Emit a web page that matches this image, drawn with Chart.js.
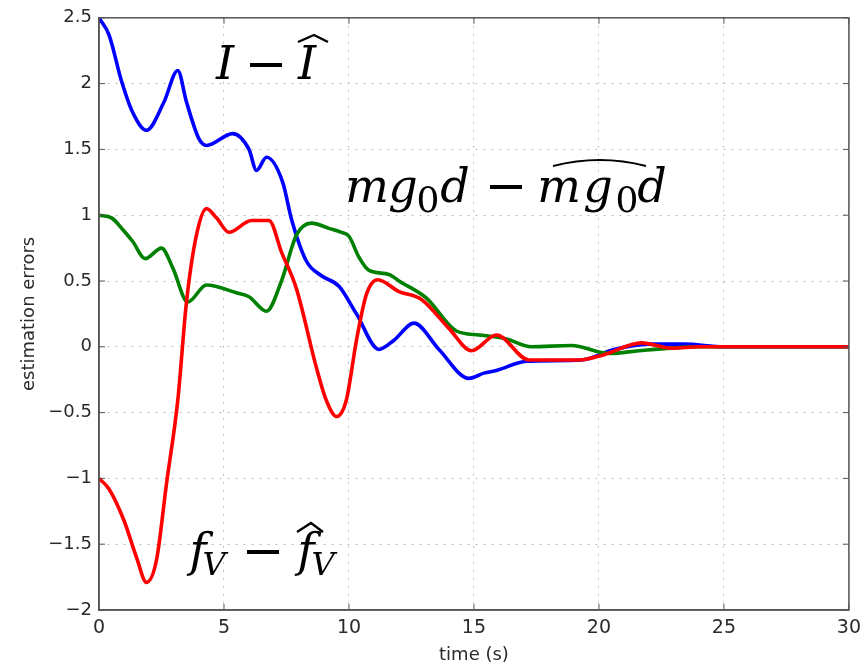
<!DOCTYPE html>
<html>
<head>
<meta charset="utf-8">
<script src="https://cdn.jsdelivr.net/npm/chart.js"></script>
<style>
  body { margin: 0; background: #fff; }
</style>
</head>
<body>
<canvas id="myChart" width="868" height="668"></canvas>
<script>
// time (s) and error values, one pair of arrays per curve
const inertiaTimes = [0, 0.4, 0.9, 1.35, 1.9, 2.6, 3.15, 3.5, 4.0, 4.3, 5.35, 6.0, 6.3, 6.7, 7.35, 7.7, 8.3, 8.9, 9.6, 10.3, 11.2, 11.8, 12.6, 13.6, 14.8, 15.4, 15.9, 17.1, 19.3, 20.6, 22.1, 23.4, 25, 30];
const inertiaErrors = [2.5, 2.37, 2.02, 1.78, 1.645, 1.86, 2.1, 1.86, 1.58, 1.53, 1.62, 1.5, 1.34, 1.44, 1.25, 0.97, 0.65, 0.54, 0.46, 0.25, -0.02, 0.05, 0.18, -0.02, -0.24, -0.2, -0.18, -0.11, -0.1, -0.02, 0.02, 0.02, 0, 0];

const gravityTimes = [0, 0.5, 1.0, 1.35, 1.85, 2.5, 2.95, 3.55, 4.3, 5.5, 6.0, 6.7, 7.3, 7.9, 8.5, 9.2, 9.7, 10.0, 10.4, 10.8, 11.6, 12.0, 13.1, 14.3, 15.2, 16.3, 17.3, 18.9, 20.4, 21.6, 22.9, 24, 30];
const gravityErrors = [1.0, 0.98, 0.88, 0.8, 0.67, 0.75, 0.6, 0.34, 0.47, 0.41, 0.38, 0.27, 0.5, 0.85, 0.94, 0.9, 0.87, 0.84, 0.68, 0.58, 0.55, 0.5, 0.37, 0.12, 0.09, 0.06, 0.0, 0.01, -0.05, -0.03, -0.01, 0, 0];

const frictionTimes = [0, 0.4, 1.0, 1.5, 1.9, 2.3, 2.7, 3.15, 3.5, 3.9, 4.3, 4.7, 5.2, 6.1, 6.8, 7.3, 7.9, 8.7, 9.1, 9.5, 9.9, 10.3, 10.7, 11.15, 12.0, 12.9, 14.0, 14.9, 15.9, 17.2, 19.2, 20.2, 21.7, 22.9, 24, 30];
const frictionErrors = [-1.0, -1.08, -1.32, -1.6, -1.79, -1.62, -1.04, -0.41, 0.34, 0.85, 1.05, 0.98, 0.87, 0.96, 0.96, 0.72, 0.44, -0.16, -0.41, -0.53, -0.4, 0.05, 0.4, 0.51, 0.42, 0.36, 0.14, -0.03, 0.09, -0.1, -0.1, -0.06, 0.03, -0.01, 0, 0];

const xTicks = [0, 5, 10, 15, 20, 25, 30];
const yTicks = [-2, -1.5, -1, -0.5, 0, 0.5, 1, 1.5, 2, 2.5];

function toPoints(times, values) {
    return times.map((t, i) => ({x: t, y: values[i]}));
}

// curve labels, drawn glyph by glyph (centre x, baseline y in pixels)
const serif = '"DejaVu Serif", "Liberation Serif", serif';
const mathLabels = [
    {glyphs: [
        {t: 'I', x: 225, y: 79, size: 46, italic: true},
        {t: 'I', x: 307, y: 79, size: 46, italic: true}
     ],
     minus: [250, 282, 65],
     hats: [{pts: [[298, 42], [314, 35], [328, 42]], wide: false}]},
    {glyphs: [
        {t: 'm', x: 367, y: 202, size: 46, italic: true},
        {t: 'g', x: 403, y: 202, size: 46, italic: true},
        {t: '0', x: 428, y: 212, size: 36, italic: false},
        {t: 'd', x: 455, y: 202, size: 46, italic: true},
        {t: 'm', x: 559, y: 202, size: 46, italic: true},
        {t: 'g', x: 598, y: 202, size: 46, italic: true},
        {t: '0', x: 627, y: 212, size: 36, italic: false},
        {t: 'd', x: 652, y: 202, size: 46, italic: true}
     ],
     minus: [490, 522, 187],
     hats: [{pts: [[553, 166], [600, 154], [646, 166]], wide: true}]},
    {glyphs: [
        {t: 'f', x: 198, y: 566, size: 46, italic: true},
        {t: 'V', x: 214, y: 575, size: 32, italic: true},
        {t: 'f', x: 306, y: 566, size: 46, italic: true},
        {t: 'V', x: 323, y: 575, size: 32, italic: true}
     ],
     minus: [247, 279, 552],
     hats: [{pts: [[297, 532], [311, 523], [323, 532]], wide: false}]}
];

const framePlugin = {
    id: 'frame',
    afterDatasetsDraw(chart) {
        const ctx = chart.ctx;
        const a = chart.chartArea;
        const xs = chart.scales.x;
        const ys = chart.scales.y;
        ctx.save();
        ctx.strokeStyle = '#555';
        ctx.lineWidth = 1.5;
        ctx.strokeRect(a.left, a.top, a.right - a.left, a.bottom - a.top);
        ctx.lineWidth = 1;
        ctx.beginPath();
        xTicks.forEach(v => {
            const px = xs.getPixelForValue(v);
            ctx.moveTo(px, a.bottom); ctx.lineTo(px, a.bottom - 6);
            ctx.moveTo(px, a.top); ctx.lineTo(px, a.top + 6);
        });
        yTicks.forEach(v => {
            const py = ys.getPixelForValue(v);
            ctx.moveTo(a.left, py); ctx.lineTo(a.left + 6, py);
            ctx.moveTo(a.right, py); ctx.lineTo(a.right - 6, py);
        });
        ctx.stroke();

        // math labels
        ctx.fillStyle = '#000';
        ctx.strokeStyle = '#000';
        ctx.textAlign = 'center';
        ctx.textBaseline = 'alphabetic';
        mathLabels.forEach(lab => {
            lab.glyphs.forEach(g => {
                ctx.font = (g.italic ? 'italic ' : '') + g.size + 'px ' + serif;
                ctx.fillText(g.t, g.x, g.y);
            });
            ctx.fillRect(lab.minus[0], lab.minus[2] - 2, lab.minus[1] - lab.minus[0], 4);
            lab.hats.forEach(h => {
                const p = h.pts;
                ctx.beginPath();
                ctx.moveTo(p[0][0], p[0][1]);
                if (h.wide) {
                    ctx.lineWidth = 2;
                    ctx.quadraticCurveTo(p[1][0], p[1][1], p[2][0], p[2][1]);
                } else {
                    ctx.lineWidth = 2.4;
                    ctx.lineJoin = 'miter';
                    ctx.lineTo(p[1][0], p[1][1]);
                    ctx.lineTo(p[2][0], p[2][1]);
                }
                ctx.stroke();
            });
        });
        ctx.restore();
    }
};

const fmt = v => String(Math.round(v * 10) / 10).replace('-', '\u2212');

const ctx = document.getElementById('myChart').getContext('2d');
const myChart = new Chart(ctx, {
    type: 'line',
    data: {
        datasets: [
            {label: 'f_V error', data: toPoints(frictionTimes, frictionErrors), borderColor: '#ff0000'},
            {label: 'mg0d error', data: toPoints(gravityTimes, gravityErrors), borderColor: '#008000'},
            {label: 'I error', data: toPoints(inertiaTimes, inertiaErrors), borderColor: '#0000ff'}
        ]
    },
    options: {
        responsive: false,
        animation: false,
        layout: {padding: {top: 14, right: 15, left: 0, bottom: 0}},
        elements: {
            point: {radius: 0},
            line: {borderWidth: 3.6, cubicInterpolationMode: 'monotone', fill: false}
        },
        plugins: {
            legend: {display: false},
            tooltip: {enabled: false}
        },
        scales: {
            x: {
                type: 'linear',
                min: 0, max: 30,
                afterFit(scale) { scale.height = 58; },
                afterBuildTicks(scale) { scale.ticks = xTicks.map(v => ({value: v})); },
                ticks: {
                    color: '#2a2a2a', padding: 7, maxRotation: 0,
                    font: {family: '"DejaVu Sans", sans-serif', size: 19},
                    callback: fmt
                },
                grid: {color: '#bdbdbd', lineWidth: 1, drawTicks: false},
                border: {color: '#555', width: 1.5, dash: [2, 6]},
                title: {
                    display: true, text: 'time (s)', color: '#2a2a2a',
                    font: {family: '"DejaVu Sans", sans-serif', size: 18},
                    padding: {top: 0, bottom: 2}
                }
            },
            y: {
                min: -2, max: 2.5,
                afterFit(scale) { scale.width = 99; },
                afterBuildTicks(scale) { scale.ticks = yTicks.map(v => ({value: v})); },
                ticks: {
                    color: '#2a2a2a', padding: 7,
                    font: {family: '"DejaVu Sans", sans-serif', size: 18},
                    callback: fmt
                },
                grid: {color: '#bdbdbd', lineWidth: 1, drawTicks: false},
                border: {color: '#555', width: 1.5, dash: [2, 6]},
                title: {
                    display: true, text: 'estimation errors', color: '#2a2a2a',
                    font: {family: '"DejaVu Sans", sans-serif', size: 18},
                    padding: {top: 19, bottom: 0}
                }
            }
        }
    },
    plugins: [framePlugin]
});
</script>
</body>
</html>
